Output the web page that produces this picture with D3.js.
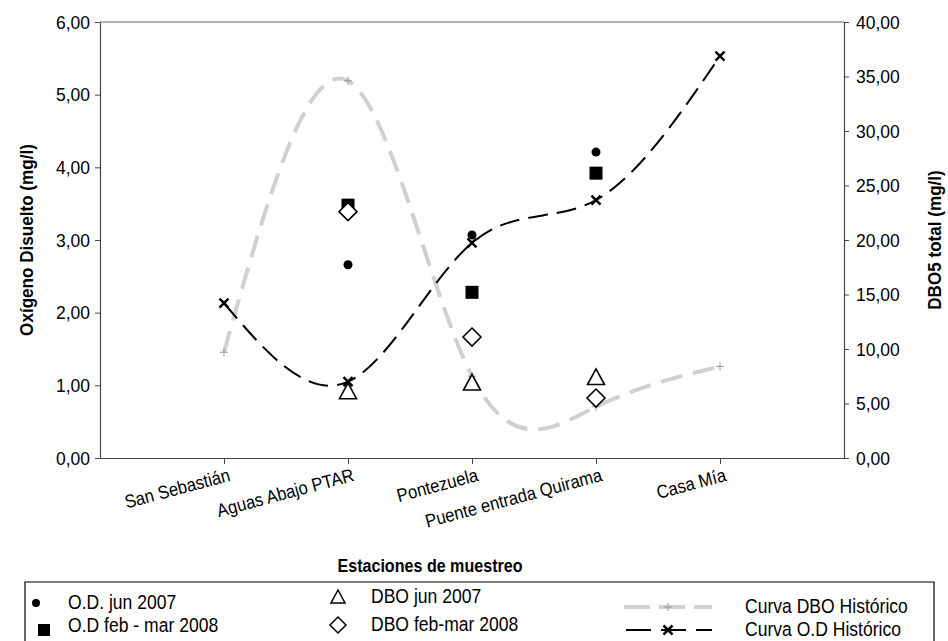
<!DOCTYPE html>
<html>
<head>
<meta charset="utf-8">
<script src="https://cdn.jsdelivr.net/npm/d3@7"></script>
<style>
  html, body { margin: 0; padding: 0; background: #fff; }
  svg { display: block; font-family: "Liberation Sans", Arial, sans-serif; }
</style>
</head>
<body>
<svg id="chart" width="948" height="641"></svg>
<script>
// ---- data ----
const categories = ["San Sebastián", "Aguas Abajo PTAR", "Pontezuela", "Puente entrada Quirama", "Casa Mía"];
const odJun2007 = [null, 2.66, 3.07, 4.21, null];
const odFebMar2008 = [null, 3.48, 2.28, 3.92, null];
const dboJun2007 = [null, 6.1, 6.9, 7.4, null];
const dboFebMar2008 = [null, 22.6, 11.1, 5.5, null];
const curvaDBOHistorico = [9.7, 34.6, 7.5, 4.7, 8.4];
const curvaODHistorico = [2.13, 1.05, 2.96, 3.55, 5.53];
const leftTicks = [0, 1, 2, 3, 4, 5, 6];
const rightTicks = [0, 5, 10, 15, 20, 25, 30, 35, 40];

const legendItems = [
  "O.D. jun 2007", "O.D feb - mar 2008", "DBO jun 2007", "DBO feb-mar 2008",
  "Curva DBO Histórico", "Curva O.D Histórico"
];

// ---- layout ----
const svg = d3.select("#chart");
const L = 100, R = 844, T = 22, B = 458;
const fmt = d => d3.format(".2f")(d).replace(".", ",");
const SX = 0.9; // slight horizontal condensation of the original font

const x = d3.scaleLinear().domain([0, categories.length + 1]).range([L, R]);
const yL = d3.scaleLinear().domain([0, 6]).range([B, T]);
const yR = d3.scaleLinear().domain([0, 40]).range([B, T]);

// frame top line
svg.append("line").attr("x1", L).attr("x2", R).attr("y1", T).attr("y2", T)
  .attr("stroke", "#666").attr("stroke-width", 1);

// left axis
const gL = svg.append("g").attr("transform", `translate(${L},0)`)
  .call(d3.axisLeft(yL).tickValues(leftTicks).tickFormat(fmt).tickSize(5).tickSizeOuter(0));
// right axis
const gR = svg.append("g").attr("transform", `translate(${R},0)`)
  .call(d3.axisRight(yR).tickValues(rightTicks).tickFormat(fmt).tickSize(5).tickSizeOuter(0));
// bottom axis
const gB = svg.append("g").attr("transform", `translate(0,${B})`)
  .call(d3.axisBottom(x).tickValues(d3.range(1, categories.length + 1))
    .tickFormat(i => categories[i - 1]).tickSize(6).tickSizeOuter(0));

[gL, gR, gB].forEach(g => {
  g.select(".domain").attr("stroke", "#444").attr("stroke-width", 1.2);
  g.selectAll(".tick line").attr("stroke", "#444");
  g.selectAll("text").attr("fill", "#000").style("font-size", "17.5px")
    .style("font-family", "'Liberation Sans', Arial, sans-serif");
});
gL.selectAll(".tick text").attr("x", -10).attr("dy", "0.36em");
gR.selectAll(".tick text").attr("x", 12).attr("dy", "0.36em");
gB.selectAll(".tick text")
  .style("font-size", "18.5px")
  .attr("text-anchor", "end")
  .attr("x", 0).attr("y", 0).attr("dy", "0.76em")
  .attr("transform", `translate(3,9) rotate(-15) scale(${SX},1)`);

// axis titles
svg.append("text").attr("transform", `translate(33,${(T + B) / 2}) rotate(-90) scale(${SX},1)`)
  .attr("text-anchor", "middle").style("font-size", "19px").style("font-weight", "bold")
  .text("Oxígeno Disuelto (mg/l)");
svg.append("text").attr("transform", `translate(941,${(T + B) / 2}) rotate(-90) scale(${SX},1)`)
  .attr("text-anchor", "middle").style("font-size", "19px").style("font-weight", "bold")
  .text("DBO5 total (mg/l)");
svg.append("text").attr("transform", `translate(430,572) scale(0.87,1)`)
  .attr("text-anchor", "middle").style("font-size", "18.5px").style("font-weight", "bold")
  .text("Estaciones de muestreo");

// ---- curves ----
const idx = d3.range(categories.length);
const lineDBO = d3.line().curve(d3.curveNatural)
  .x(i => x(i + 1)).y(i => yR(curvaDBOHistorico[i]));
const lineOD = d3.line().curve(d3.curveNatural)
  .x(i => x(i + 1)).y(i => yL(curvaODHistorico[i]));

svg.append("path").attr("d", lineDBO(idx)).attr("fill", "none")
  .attr("stroke", "#d0d0d0").attr("stroke-width", 4).attr("stroke-dasharray", "22,11");
svg.append("path").attr("d", lineOD(idx)).attr("fill", "none")
  .attr("stroke", "#000").attr("stroke-width", 2).attr("stroke-dasharray", "20,9");

// marker shapes
const plusPath = s => `M${-s},0H${s}M0,${-s}V${s}`;
const crossPath = s => `M${-s},${-s}L${s},${s}M${-s},${s}L${s},${-s}`;
const triPath = s => `M0,${-s}L${s},${s * 0.85}L${-s},${s * 0.85}Z`;
const diaPath = s => `M0,${-s}L${s},0L0,${s}L${-s},0Z`;

// historic curve markers
svg.append("g").selectAll("path").data(idx).join("path")
  .attr("transform", i => `translate(${x(i + 1)},${yR(curvaDBOHistorico[i])})`)
  .attr("d", plusPath(4)).attr("stroke", "#999").attr("stroke-width", 1).attr("fill", "none");

// scatter series
const valid = arr => idx.filter(i => arr[i] != null);

svg.append("g").selectAll("circle").data(valid(odJun2007)).join("circle")
  .attr("cx", i => x(i + 1)).attr("cy", i => yL(odJun2007[i])).attr("r", 4.5).attr("fill", "#000");

svg.append("g").selectAll("rect").data(valid(odFebMar2008)).join("rect")
  .attr("x", i => x(i + 1) - 6.5).attr("y", i => yL(odFebMar2008[i]) - 6.5)
  .attr("width", 13).attr("height", 13).attr("fill", "#000");

svg.append("g").selectAll("path").data(valid(dboJun2007)).join("path")
  .attr("transform", i => `translate(${x(i + 1)},${yR(dboJun2007[i])})`)
  .attr("d", triPath(8.5)).attr("fill", "#fff").attr("stroke", "#000").attr("stroke-width", 1.6);

svg.append("g").selectAll("path").data(valid(dboFebMar2008)).join("path")
  .attr("transform", i => `translate(${x(i + 1)},${yR(dboFebMar2008[i])})`)
  .attr("d", diaPath(9)).attr("fill", "#fff").attr("stroke", "#000").attr("stroke-width", 1.6);

svg.append("g").selectAll("path").data(idx).join("path")
  .attr("transform", i => `translate(${x(i + 1)},${yL(curvaODHistorico[i])})`)
  .attr("d", crossPath(4.5)).attr("stroke", "#000").attr("stroke-width", 2.5).attr("fill", "none");

// ---- legend ----
const lg = svg.append("g");
lg.append("path").attr("d", "M25,645V582H934V645").attr("fill", "none")
  .attr("stroke", "#000").attr("stroke-width", 1.2);
const lt = (xx, yy, t) => lg.append("text")
  .attr("transform", `translate(${xx},${yy}) scale(${SX},1)`)
  .style("font-size", "19.5px").text(t);

lg.append("circle").attr("cx", 36).attr("cy", 603).attr("r", 4).attr("fill", "#000");
lt(68, 609, legendItems[0]);
lg.append("rect").attr("x", 38).attr("y", 624).attr("width", 12).attr("height", 12).attr("fill", "#000");
lt(68, 632, legendItems[1]);

lg.append("path").attr("transform", "translate(338,597)").attr("d", triPath(7))
  .attr("fill", "#fff").attr("stroke", "#000").attr("stroke-width", 1.5);
lt(371, 603, legendItems[2]);
lg.append("path").attr("transform", "translate(338,625)").attr("d", diaPath(8))
  .attr("fill", "#fff").attr("stroke", "#000").attr("stroke-width", 1.5);
lt(371, 631, legendItems[3]);

lg.append("line").attr("x1", 624).attr("x2", 712).attr("y1", 607).attr("y2", 607)
  .attr("stroke", "#d0d0d0").attr("stroke-width", 4).attr("stroke-dasharray", "26,9");
lg.append("path").attr("transform", "translate(668,607)").attr("d", plusPath(4))
  .attr("stroke", "#999").attr("fill", "none");
lt(745, 613, legendItems[4]);

lg.append("line").attr("x1", 626).attr("x2", 712).attr("y1", 630).attr("y2", 630)
  .attr("stroke", "#000").attr("stroke-width", 2).attr("stroke-dasharray", "25,10");
lg.append("path").attr("transform", "translate(668,630)").attr("d", crossPath(4.5))
  .attr("stroke", "#000").attr("stroke-width", 2.5).attr("fill", "none");
lt(745, 636, legendItems[5]);
</script>
</body>
</html>
